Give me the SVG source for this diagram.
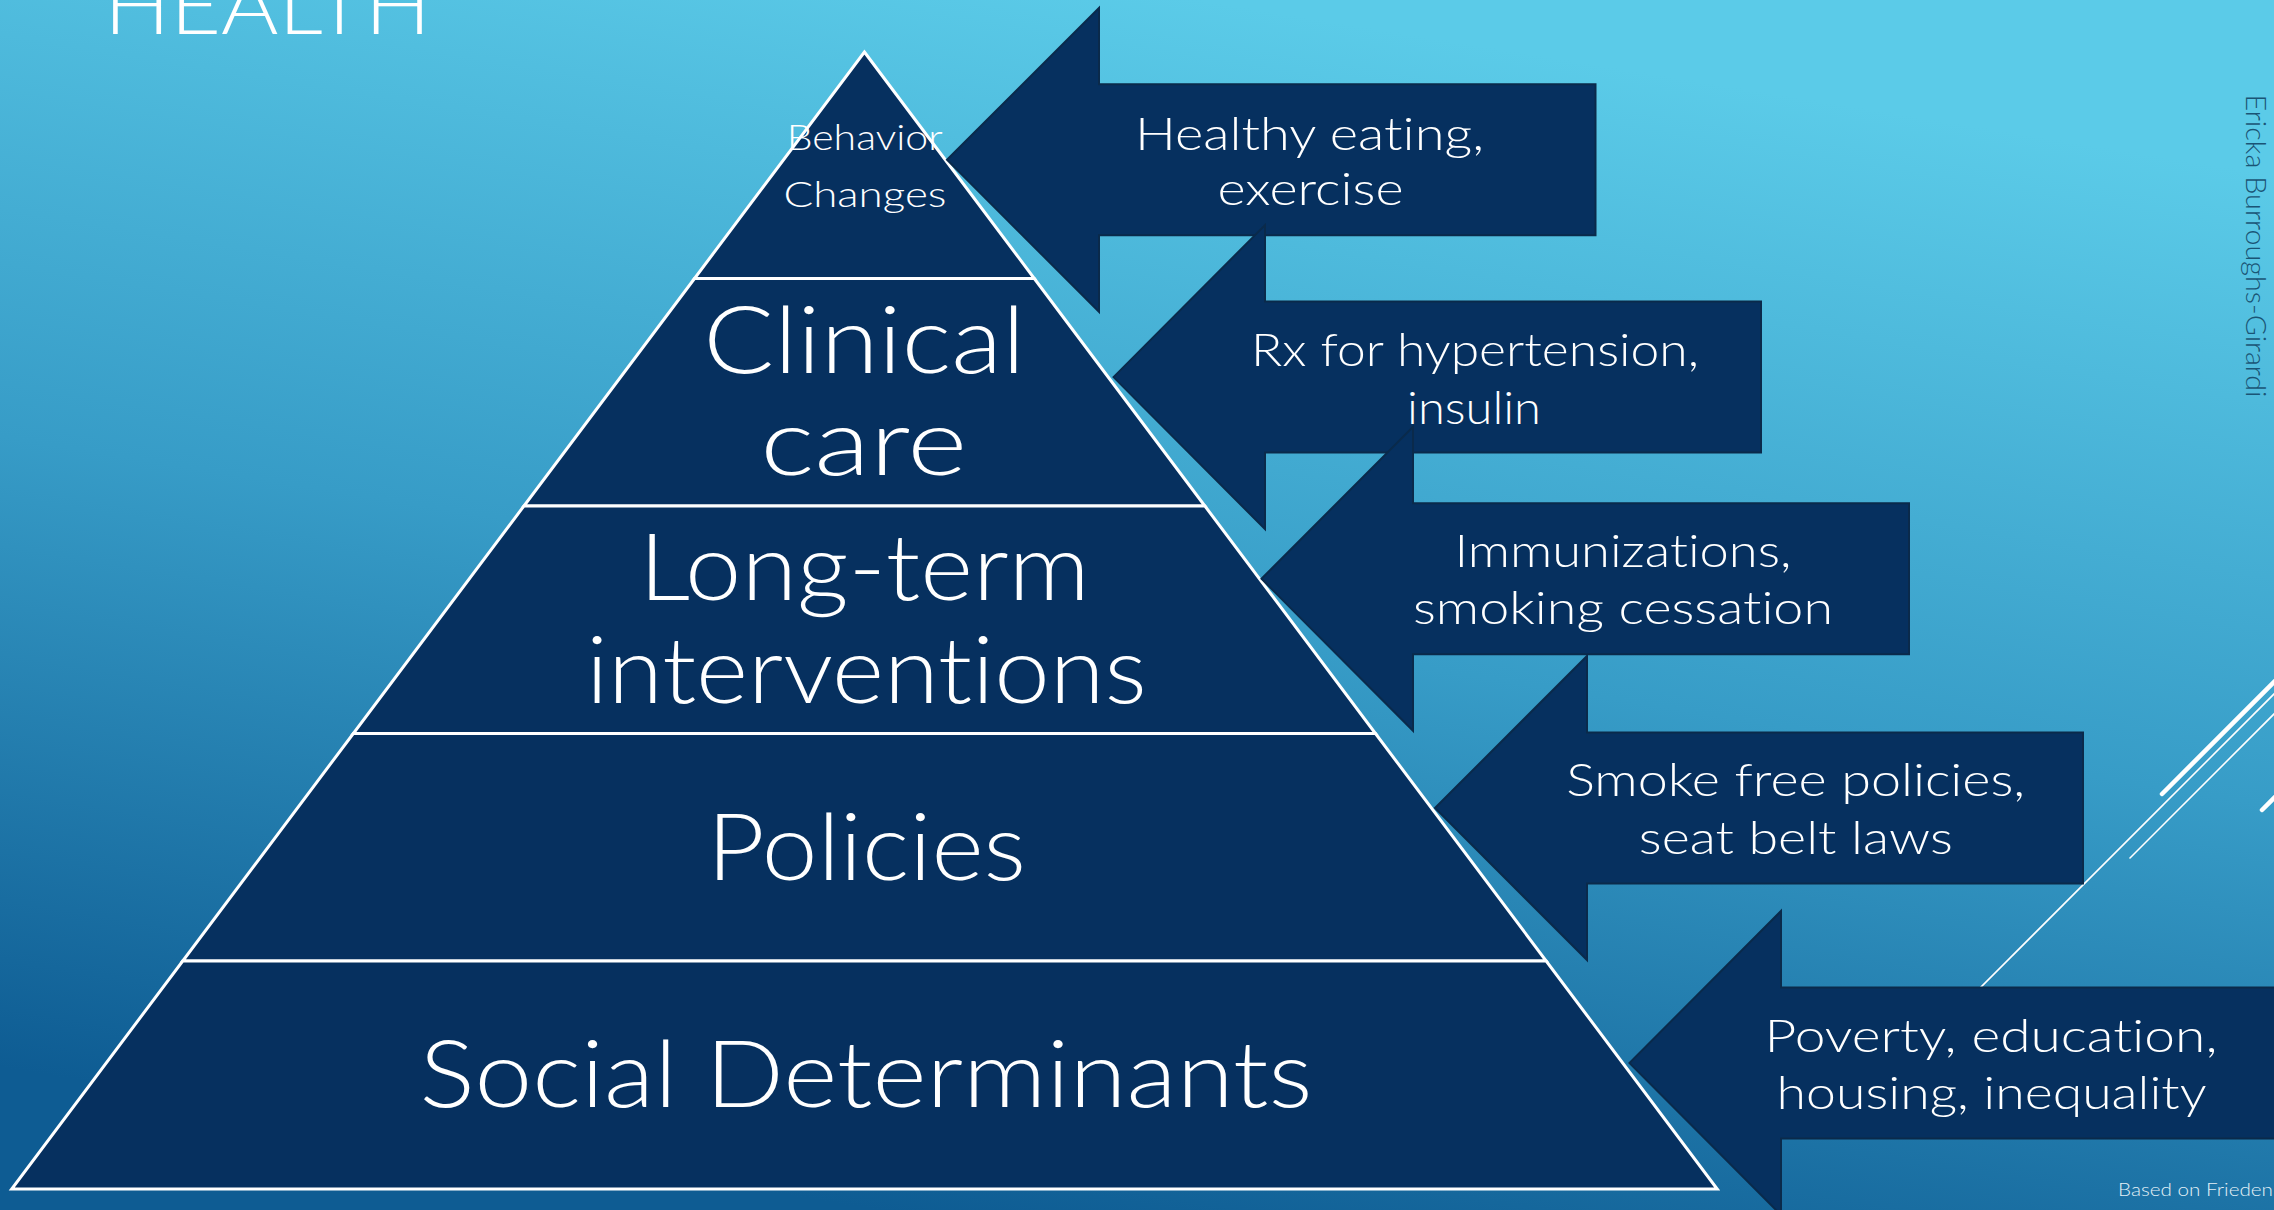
<svg xmlns="http://www.w3.org/2000/svg" width="2274" height="1210" viewBox="0 0 2274 1210">
<defs>
<linearGradient id="bg" gradientUnits="userSpaceOnUse" x1="1200" y1="0" x2="1000" y2="1230">
<stop offset="0" stop-color="#5BCBE8"/>
<stop offset="0.5" stop-color="#379CC7"/>
<stop offset="1" stop-color="#0E5C93"/>
</linearGradient>
<style>
.tier{fill:#06305F;stroke:#FFFFFF;stroke-width:3;stroke-linejoin:miter}
.arrow{fill:#06305F;stroke:#0A2A4B;stroke-width:2}
.t{font-family:Lato,"Open Sans","Liberation Sans",sans-serif;font-weight:300;fill:#FFFFFF;text-anchor:middle;font-variant-ligatures:none}
.deco{stroke:#FFFFFF;fill:none;stroke-linecap:round}
.small{font-family:Lato,"Open Sans","Liberation Sans",sans-serif;font-weight:300;font-variant-ligatures:none}
</style>
</defs>
<rect x="0" y="0" width="2274" height="1210" fill="url(#bg)"/>
<text class="t" x="104" y="34" font-size="80" style="text-anchor:start" textLength="327" lengthAdjust="spacingAndGlyphs">HEALTH</text>
<g id="decor">
<line class="deco" x1="1900" y1="1068" x2="2300" y2="668" stroke-width="1.6"/>
<line class="deco" x1="2130" y1="858" x2="2300" y2="688" stroke-width="1.6"/>
<line class="deco" x1="2162" y1="794" x2="2300" y2="656" stroke-width="4.5"/>
<line class="deco" x1="2262" y1="810" x2="2300" y2="772" stroke-width="4.5"/>
</g>
<g id="pyramid">
<g id="tier-behavior">
<polygon class="tier" points="864.4,52 1034.3,278.5 694.5,278.5"/>
</g>
<g id="tier-clinical">
<polygon class="tier" points="694.5,278.5 1034.3,278.5 1204.9,506 523.9,506"/>
<text class="t" x="864.2" y="373.3" font-size="92" textLength="322" lengthAdjust="spacingAndGlyphs">Clinical</text>
<text class="t" x="863.7" y="475" font-size="92" textLength="207" lengthAdjust="spacingAndGlyphs">care</text>
</g>
<g id="tier-longterm">
<polygon class="tier" points="523.9,506 1204.9,506 1375.5,733.5 353.3,733.5"/>
<text class="t" x="864.4" y="600" font-size="92" textLength="451" lengthAdjust="spacingAndGlyphs">Long-term</text>
<text class="t" x="866.4" y="703.3" font-size="92" textLength="561" lengthAdjust="spacingAndGlyphs">interventions</text>
</g>
<g id="tier-policies">
<polygon class="tier" points="353.3,733.5 1375.5,733.5 1546.2,961 182.7,961"/>
<text class="t" x="866.6" y="880" font-size="92" textLength="319" lengthAdjust="spacingAndGlyphs">Policies</text>
</g>
<g id="tier-social">
<polygon class="tier" points="182.7,961 1546.2,961 1717.2,1189 11.7,1189"/>
<text class="t" x="866" y="1107.3" font-size="92" textLength="893" lengthAdjust="spacingAndGlyphs">Social Determinants</text>
</g>
</g>
<g id="arrow-healthy">
<polygon class="arrow" points="947,159.8 1099,7.8 1099,84.3 1595.5,84.3 1595.5,235.3 1099,235.3 1099,311.8"/>
<text class="t" x="1309.5" y="150" font-size="46" textLength="349" lengthAdjust="spacingAndGlyphs">Healthy eating,</text>
<text class="t" x="1310.5" y="205" font-size="46" textLength="186" lengthAdjust="spacingAndGlyphs">exercise</text>
</g>
<g id="arrow-rx">
<polygon class="arrow" points="1113.5,377.1 1265,225.1 1265,301.6 1761,301.6 1761,452.6 1265,452.6 1265,529.1"/>
<text class="t" x="1475" y="365.7" font-size="46" textLength="448" lengthAdjust="spacingAndGlyphs">Rx for hypertension,</text>
<text class="t" x="1474" y="424.4" font-size="46" textLength="134" lengthAdjust="spacingAndGlyphs">insulin</text>
</g>
<g id="arrow-immunizations">
<polygon class="arrow" points="1261.5,578.8 1413,426.8 1413,503.3 1909,503.3 1909,654.3 1413,654.3 1413,730.8"/>
<text class="t" x="1623" y="567" font-size="46" textLength="337" lengthAdjust="spacingAndGlyphs">Immunizations,</text>
<text class="t" x="1623" y="624" font-size="46" textLength="420" lengthAdjust="spacingAndGlyphs">smoking cessation</text>
</g>
<g id="arrow-smokefree">
<polygon class="arrow" points="1435,808 1587,656 1587,732.5 2083,732.5 2083,883.5 1587,883.5 1587,960"/>
<text class="t" x="1795.7" y="796" font-size="46" textLength="459" lengthAdjust="spacingAndGlyphs">Smoke free policies,</text>
<text class="t" x="1795.8" y="853.8" font-size="46" textLength="314" lengthAdjust="spacingAndGlyphs">seat belt laws</text>
</g>
<g id="arrow-poverty">
<polygon class="arrow" points="1629.5,1063 1781,911 1781,987.5 2290,987.5 2290,1138.5 1781,1138.5 1781,1215"/>
<text class="t" x="1991" y="1051.8" font-size="46" textLength="453" lengthAdjust="spacingAndGlyphs">Poverty, education,</text>
<text class="t" x="1991.6" y="1108.5" font-size="46" textLength="430" lengthAdjust="spacingAndGlyphs">housing, inequality</text>
</g>
<g id="label-behavior">
<text class="t" x="864.7" y="150" font-size="36" textLength="156" lengthAdjust="spacingAndGlyphs">Behavior</text>
<text class="t" x="865" y="206.7" font-size="36" textLength="163" lengthAdjust="spacingAndGlyphs">Changes</text>
</g>
<g id="author">
<text class="small" transform="translate(2246,94.5) rotate(90)" x="0" y="0" font-size="27" fill="#1A5475" textLength="303" lengthAdjust="spacingAndGlyphs">Ericka Burroughs-Girardi</text>
</g>
<g id="source">
<text class="small" x="2118" y="1196" font-size="18" fill="#E3F0F6" textLength="155" lengthAdjust="spacingAndGlyphs">Based on Frieden</text>
</g>
</svg>
